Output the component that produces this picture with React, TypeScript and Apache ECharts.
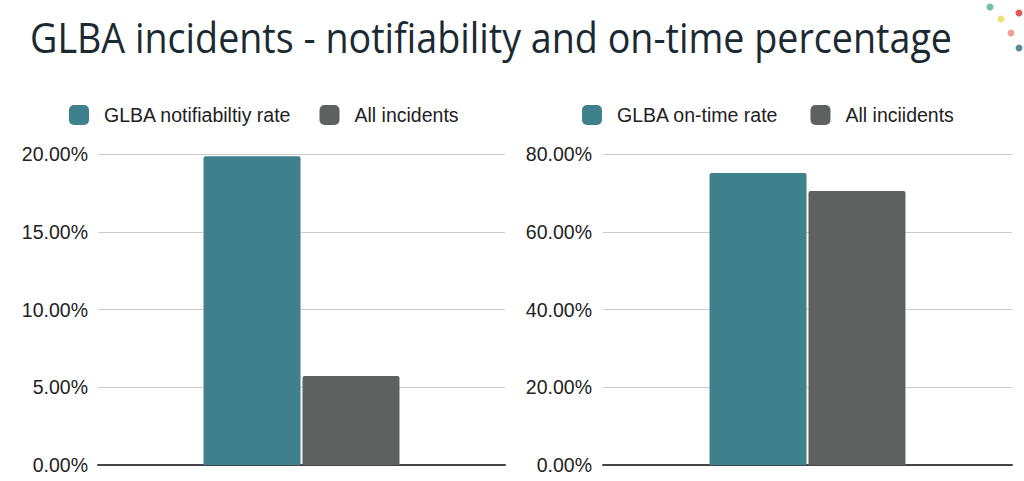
import React, { useEffect, useRef } from "react";
import * as echarts from "echarts";

const titleText = "GLBA incidents - notifiability and on-time percentage";
const categories = [""];
const leftSeriesNames = ["GLBA notifiabiltiy rate", "All incidents"];
const leftValues = [19.85, 5.72];
const rightSeriesNames = ["GLBA on-time rate", "All inciidents"];
const rightValues = [75.1, 70.5];
const colors = ["#3e808c", "#5f6160"];
const dots = [
  { x: 990, y: 7, c: "#6fc0a6" },
  { x: 1001, y: 19, c: "#ece27a" },
  { x: 1019, y: 13, c: "#e8545c" },
  { x: 1011, y: 33, c: "#f0a08e" },
  { x: 1019, y: 48, c: "#5d8a97" },
];

export default function App() {
  const ref = useRef<HTMLDivElement>(null);
  useEffect(() => {
    if (!ref.current) return;
    const chart = echarts.init(ref.current, undefined, { renderer: "svg" });
    const canvas = document.createElement("canvas");
    const ctx = canvas.getContext("2d")!;
    const titleSize = 42;
    ctx.font = `${titleSize}px "Open Sans"`;
    const w = ctx.measureText(titleText).width || 1000;
    const sx = 922 / w;

    const axisLabel = {
      fontFamily: "Liberation Sans, Arial",
      fontSize: 19.5,
      color: "#222",
      formatter: (v: number) => v.toFixed(2) + "%",
    };
    const legendText = {
      fontFamily: "Liberation Sans, Arial",
      fontSize: 19.5,
      color: "#222",
      padding: [0, 0, 0, 10],
    };
    const mkBar = (name: string, val: number, idx: number, color: string) => ({
      type: "bar",
      name,
      xAxisIndex: idx,
      yAxisIndex: idx,
      data: [val],
      barWidth: 97,
      barGap: "2%",
      itemStyle: { color, borderRadius: [2, 2, 0, 0] },
    });

    chart.setOption({
      animation: false,
      color: colors,
      graphic: [
        {
          type: "text",
          x: 30,
          y: 37,
          scaleX: sx,
          style: {
            text: titleText,
            fontFamily: "Open Sans",
            fontSize: titleSize,
            fill: "#1b2a32",
            verticalAlign: "middle",
          },
        },
        ...dots.map((d) => ({
          type: "circle",
          shape: { cx: d.x, cy: d.y, r: 3.5 },
          style: { fill: d.c },
        })),
      ],
      legend: [
        {
          left: 69,
          top: 105,
          padding: 0,
          itemWidth: 20,
          itemHeight: 20,
          itemGap: 28,
          icon: "roundRect",
          data: leftSeriesNames,
          textStyle: legendText,
        },
        {
          left: 582,
          top: 105,
          padding: 0,
          itemWidth: 20,
          itemHeight: 20,
          itemGap: 32,
          icon: "roundRect",
          data: rightSeriesNames,
          textStyle: legendText,
        },
      ],
      grid: [
        { left: 98, top: 154, width: 407, height: 311 },
        { left: 603, top: 154, width: 409, height: 311 },
      ],
      xAxis: [0, 1].map((i) => ({
        type: "category",
        gridIndex: i,
        data: categories,
        axisTick: { show: false },
        axisLabel: { show: false },
        axisLine: { lineStyle: { color: "#444", width: 2 } },
      })),
      yAxis: [
        {
          type: "value",
          gridIndex: 0,
          min: 0,
          max: 20,
          interval: 5,
          axisLabel: { ...axisLabel, margin: 10 },
          splitLine: { lineStyle: { color: "#cccccc", width: 1 } },
        },
        {
          type: "value",
          gridIndex: 1,
          min: 0,
          max: 80,
          interval: 20,
          axisLabel: { ...axisLabel, margin: 11 },
          splitLine: { lineStyle: { color: "#cccccc", width: 1 } },
        },
      ],
      series: [
        mkBar(leftSeriesNames[0], leftValues[0], 0, colors[0]),
        mkBar(leftSeriesNames[1], leftValues[1], 0, colors[1]),
        mkBar(rightSeriesNames[0], rightValues[0], 1, colors[0]),
        mkBar(rightSeriesNames[1], rightValues[1], 1, colors[1]),
      ],
    });
    return () => chart.dispose();
  }, []);
  return (
    <div
      ref={ref}
      style={{ position: "fixed", left: 0, top: 0, width: 1024, height: 481, background: "#fff" }}
    />
  );
}
